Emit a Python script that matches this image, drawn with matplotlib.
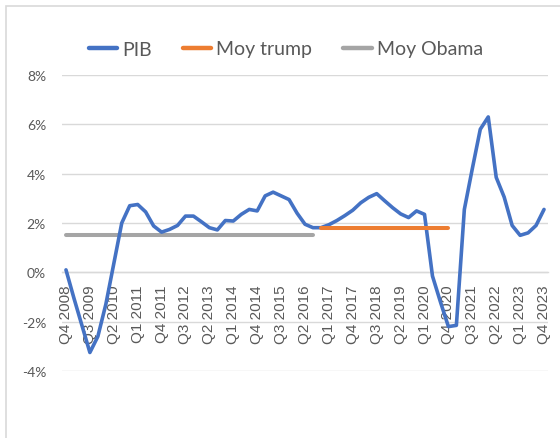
import matplotlib
matplotlib.use("Agg")
import matplotlib.pyplot as plt
from matplotlib.patches import Rectangle
from matplotlib.ticker import FuncFormatter

# Quarterly labels Q4 2008 .. Q4 2023
quarters = []
for year in range(2008, 2024):
    for q in range(1, 5):
        if year == 2008 and q < 4:
            continue
        quarters.append(f"Q{q} {year}")

# Year-over-year GDP growth (%)
pib = [0.1, -1.05, -2.15, -3.25, -2.6, -1.3, 0.35, 2.0, 2.7, 2.75,
       2.45, 1.88, 1.63, 1.74, 1.9, 2.28, 2.28, 2.05, 1.81, 1.72,
       2.1, 2.08, 2.35, 2.55, 2.49, 3.1, 3.25, 3.1, 2.95, 2.4,
       1.95, 1.81, 1.81, 1.93, 2.1, 2.3, 2.52, 2.82, 3.04, 3.19,
       2.9, 2.62, 2.37, 2.22, 2.49, 2.35, -0.15, -1.2, -2.2, -2.15,
       2.55, 4.2, 5.8, 6.3, 3.85, 3.05, 1.9, 1.5, 1.6, 1.9, 2.55]

# Term averages
moy_obama = 1.5
moy_trump = 1.8
obama_start, obama_end = 0, 31     # Q4 2008 .. Q3 2016
trump_start, trump_end = 32, 48    # Q4 2016 .. Q4 2020

yticks = [-4, -2, 0, 2, 4, 6, 8]

W, H = 560, 439
fig = plt.figure(figsize=(W / 100, H / 100), dpi=100)
fig.patch.set_facecolor("white")

# chart-area border
fig.patches.append(Rectangle((6 / W, -0.1), 1.2, 1 - 7 / H + 0.1,
                             transform=fig.transFigure, fill=False,
                             edgecolor="#d9d9d9", linewidth=1.2))

ax = fig.add_axes([62 / W, 1 - 372 / H, (548 - 62) / W, (372 - 76) / H])
ax.set_facecolor("none")

grid_c = "#d9d9d9"
text_c = "#595959"
narrow = ["DejaVu Sans Condensed", "Lato", "DejaVu Sans"]

x = list(range(len(quarters)))
ax.plot(x, pib, color="#4472C4", lw=2.6, solid_capstyle="round",
        solid_joinstyle="round", label="PIB", zorder=3)
ax.plot(x[trump_start:trump_end + 1], [moy_trump] * (trump_end - trump_start + 1),
        color="#ED7D31", lw=2.9, solid_capstyle="round", label="Moy trump", zorder=4)
ax.plot(x[obama_start:obama_end + 1], [moy_obama] * (obama_end - obama_start + 1),
        color="#A5A5A5", lw=2.9, solid_capstyle="round", label="Moy Obama", zorder=2)

ax.set_xlim(-0.5, len(quarters) - 0.5)
ax.set_ylim(-4, 8)
ax.set_yticks(yticks)
ax.yaxis.set_major_formatter(FuncFormatter(lambda v, p: f"{v:.0f}%"))
ax.grid(axis="y", color=grid_c, lw=1.0, zorder=0)
ax.set_axisbelow(True)

for s in ["top", "right", "left"]:
    ax.spines[s].set_visible(False)
ax.spines["bottom"].set_position(("data", 0))
ax.spines["bottom"].set_color(grid_c)
ax.spines["bottom"].set_linewidth(1.0)

ax.set_xticks(x[::3])
ax.set_xticklabels(quarters[::3], rotation=90, ha="center", va="top",
                   fontsize=11, color=text_c, family=["Liberation Sans", "DejaVu Sans"])
ax.tick_params(axis="x", length=0, pad=8.5)
ax.tick_params(axis="y", length=0, pad=11.5, labelsize=10, labelcolor=text_c)
for lab in ax.get_yticklabels():
    lab.set_family(narrow)

leg = fig.legend(loc="center", bbox_to_anchor=(286 / W, 1 - 50 / H), ncol=3,
                 frameon=False, prop={"family": narrow, "size": 14},
                 handlelength=1.45, handletextpad=0.26, columnspacing=1.6)
for t in leg.get_texts():
    t.set_color(text_c)
for h in leg.legend_handles:
    h.set_linewidth(3.2)

fig.savefig("out.png", dpi=100, facecolor="white")
